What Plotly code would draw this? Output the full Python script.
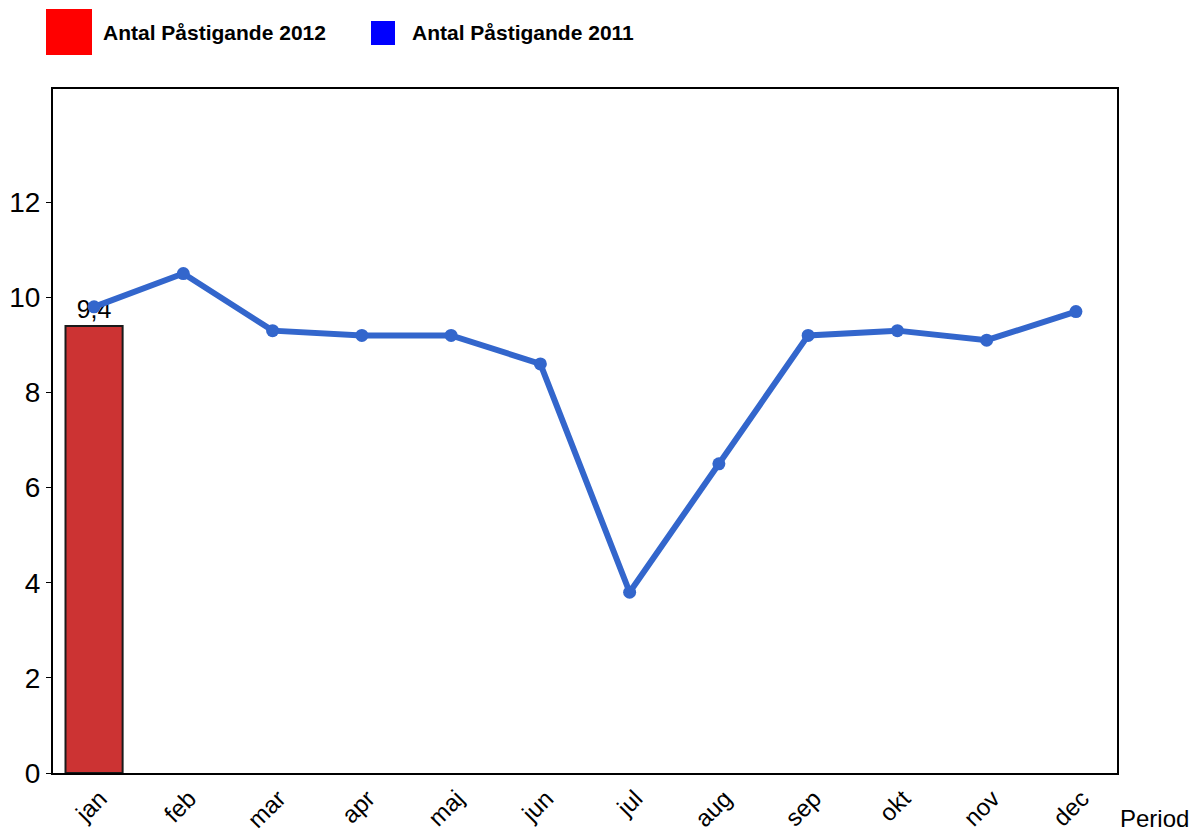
import plotly.graph_objects as go

months = ["jan", "feb", "mar", "apr", "maj", "jun", "jul", "aug", "sep", "okt", "nov", "dec"]
bar_months = ["jan"]
values_2012 = [9.4]
values_2011 = [9.8, 10.5, 9.3, 9.2, 9.2, 8.6, 3.8, 6.5, 9.2, 9.3, 9.1, 9.7]
series_names = ["Antal Påstigande 2012", "Antal Påstigande 2011"]
y_ticks = [0, 2, 4, 6, 8, 10, 12]

FONT = "Arial, Liberation Sans, sans-serif"

fig = go.Figure()
fig.add_trace(go.Bar(
    x=bar_months, y=values_2012, name=series_names[0],
    marker=dict(color="#CC3333", line=dict(color="#1a1a1a", width=2)),
    width=0.64,
    text=[f"{v:.1f}".replace(".", ",") for v in values_2012],
    textposition="outside", cliponaxis=False,
    textfont=dict(family=FONT, size=25, color="black"),
    showlegend=False,
))
fig.add_trace(go.Scatter(
    x=months, y=values_2011, name=series_names[1], mode="lines+markers",
    line=dict(color="#3366CC", width=6),
    marker=dict(color="#3366CC", size=13),
    showlegend=False,
))

# page body has an 8px offset, so the figure is sized/margined to compensate
fig.update_layout(
    width=1191, height=824,
    margin=dict(l=45, r=82, t=81, b=59),
    paper_bgcolor="white", plot_bgcolor="white",
    font=dict(family=FONT, color="black"),
    xaxis=dict(categoryorder="array", categoryarray=months, tickangle=-45,
               range=[-0.46, 11.46], ticklabelshift=6,
               tickfont=dict(size=24), showgrid=False, showline=True,
               linecolor="black", linewidth=2, mirror=True, ticks="",
               automargin=False),
    yaxis=dict(range=[0, 14.38], tickvals=y_ticks, tickfont=dict(size=28),
               showgrid=False, showline=True, linecolor="black", linewidth=2,
               mirror=True, ticks="outside", ticklen=5, tickcolor="black",
               zeroline=False, automargin=False),
    bargap=0.35,
)

# custom legend
fig.add_shape(type="rect", xref="paper", yref="paper",
              x0=(46 - 53) / 1064, x1=(92 - 53) / 1064,
              y0=(773 - 55) / 684, y1=(773 - 9) / 684,
              fillcolor="#FF0000", line=dict(width=0))
fig.add_shape(type="rect", xref="paper", yref="paper",
              x0=(371 - 53) / 1064, x1=(395 - 53) / 1064,
              y0=(773 - 45) / 684, y1=(773 - 21) / 684,
              fillcolor="#0000FF", line=dict(width=0))
fig.add_annotation(text=f"<b>{series_names[0]}</b>", xref="paper", yref="paper",
                   x=(101 - 53) / 1064, y=(773 - 33) / 684, xanchor="left", yanchor="middle",
                   showarrow=False, font=dict(size=21, family=FONT))
fig.add_annotation(text=f"<b>{series_names[1]}</b>", xref="paper", yref="paper",
                   x=(410 - 53) / 1064, y=(773 - 33) / 684, xanchor="left", yanchor="middle",
                   showarrow=False, font=dict(size=21, family=FONT))
fig.add_annotation(text="Period", xref="paper", yref="paper",
                   x=(1118 - 53) / 1064, y=(773 - 819) / 684, xanchor="left", yanchor="middle",
                   showarrow=False, font=dict(size=24, family=FONT))

fig.write_html("out.html")
